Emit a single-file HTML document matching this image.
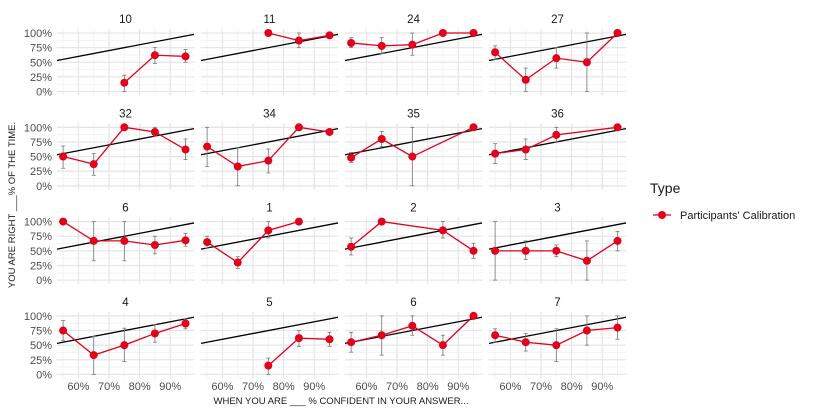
<!DOCTYPE html>
<html><head><meta charset="utf-8"><style>
body{margin:0;background:#fff;width:818px;height:414px;overflow:hidden}
text{font-family:"Liberation Sans",sans-serif}
</style></head><body>
<svg id="s" width="818" height="414" xmlns="http://www.w3.org/2000/svg"></svg>
<script>
const S=document.getElementById('s');let h='';
const panels=[
["10",[[75,15,0,28],[85,62,48,75],[95,60,50,72]]],
["11",[[75,100],[85,87,75,100],[95,96]]],
["24",[[55,83,75,92],[65,78,65,92],[75,80,62,100],[85,100],[95,100]]],
["27",[[55,67,55,78],[65,20,0,40],[75,57,40,75],[85,50,0,100],[95,100]]],
["32",[[55,50,30,68],[65,37,18,55],[75,100],[85,92,85,100],[95,62,45,80]]],
["34",[[55,67,33,100],[65,33,0,65],[75,43,22,63],[85,100],[95,92]]],
["35",[[55,48,40,57],[65,80,67,93],[75,50,0,100],[95,100]]],
["36",[[55,55,38,72],[65,62,45,80],[75,87,75,100],[95,100]]],
["6",[[55,100],[65,67,33,100],[75,67,33,100],[85,60,45,75],[95,68,58,80]]],
["1",[[55,65,55,75],[65,30,20,40],[75,85,72,100],[85,100]]],
["2",[[55,57,43,72],[65,100],[85,85,72,100],[95,50,37,63]]],
["3",[[55,50,0,100],[65,50,35,67],[75,50,40,60],[85,33,0,67],[95,67,50,83]]],
["4",[[55,75,58,92],[65,33,0,65],[75,50,22,79],[85,70,55,85],[95,87,78,95]]],
["5",[[75,15,0,28],[85,62,48,75],[95,60,48,72]]],
["6",[[55,55,38,72],[65,67,33,100],[75,83,67,100],[85,50,33,67],[95,100]]],
["7",[[55,67,55,78],[65,55,40,70],[75,50,22,78],[85,75,50,100],[95,80,60,100]]]];
panels.forEach((p,i)=>{
 const c=i%4,r=Math.floor(i/4);
 const x0=57+c*144,w=137,y100=33+r*94.3,y0=y100+58.5;
 const X=v=>x0+(v-53)*3.06, Y=v=>y0-v*0.585;
 const top=y100-4,bot=y0+4;
 h+=`<text x="${x0+w/2}" y="${y100-10}" font-size="11.5" fill="#1a1a1a" text-anchor="middle">${p[0]}</text>`;
 for(let v=55;v<=95;v+=10)h+=`<line x1="${X(v)}" x2="${X(v)}" y1="${top}" y2="${bot}" stroke="#f3f3f3" stroke-width="1"/>`;
 for(let v=12.5;v<100;v+=25)h+=`<line x1="${x0}" x2="${x0+w}" y1="${Y(v)}" y2="${Y(v)}" stroke="#f3f3f3" stroke-width="1"/>`;
 for(let v=60;v<=90;v+=10)h+=`<line x1="${X(v)}" x2="${X(v)}" y1="${top}" y2="${bot}" stroke="#e6e6e6" stroke-width="1.3"/>`;
 for(let v=0;v<=100;v+=25){h+=`<line x1="${x0}" x2="${x0+w}" y1="${Y(v)}" y2="${Y(v)}" stroke="#e6e6e6" stroke-width="1.3"/>`;
  if(c==0)h+=`<text x="52" y="${Y(v)+4}" font-size="11" fill="#4d4d4d" text-anchor="end">${v}%</text>`;}
 if(r==3)for(let v=60;v<=90;v+=10)h+=`<text x="${X(v)}" y="390" font-size="11" fill="#4d4d4d" text-anchor="middle">${v}%</text>`;
 h+=`<line x1="${x0}" y1="${Y(53)}" x2="${x0+w}" y2="${Y(97.7)}" stroke="#000" stroke-width="1.3"/>`;
 p[1].forEach(d=>{if(d.length>2)h+=`<line x1="${X(d[0])}" x2="${X(d[0])}" y1="${Y(d[2])}" y2="${Y(d[3])}" stroke="#777" stroke-width="0.8"/><line x1="${X(d[0])-2}" x2="${X(d[0])+2}" y1="${Y(d[2])}" y2="${Y(d[2])}" stroke="#777" stroke-width="0.8"/><line x1="${X(d[0])-2}" x2="${X(d[0])+2}" y1="${Y(d[3])}" y2="${Y(d[3])}" stroke="#777" stroke-width="0.8"/>`;});
 h+=`<polyline fill="none" stroke="#e3001b" stroke-width="1.3" points="${p[1].map(d=>X(d[0])+','+Y(d[1])).join(' ')}"/>`;
 p[1].forEach(d=>h+=`<circle cx="${X(d[0])}" cy="${Y(d[1])}" r="4" fill="#e3001b"/>`);
});
h+=`<text transform="translate(15,205) rotate(-90)" font-size="9.5" fill="#1a1a1a" text-anchor="middle">YOU ARE RIGHT ___% OF THE TIME.</text>`;
h+=`<text x="341" y="404" font-size="9.5" fill="#1a1a1a" text-anchor="middle">WHEN YOU ARE ___ % CONFIDENT IN YOUR ANSWER...</text>`;
h+=`<text x="650" y="193" font-size="14" fill="#1a1a1a">Type</text>`;
h+=`<line x1="653" x2="671" y1="215" y2="215" stroke="#e3001b" stroke-width="1.3"/><circle cx="662" cy="215" r="4" fill="#e3001b"/>`;
h+=`<text x="680" y="219" font-size="11" fill="#1a1a1a">Participants' Calibration</text>`;
S.innerHTML=h;
</script>
</body></html>
